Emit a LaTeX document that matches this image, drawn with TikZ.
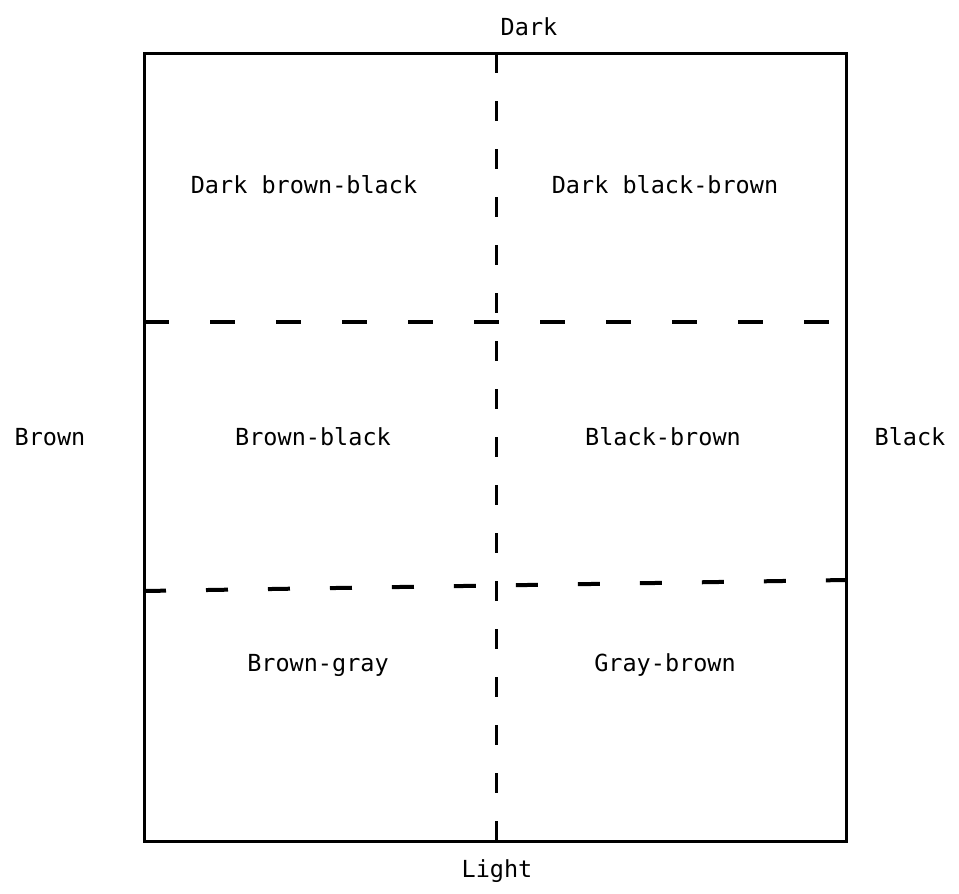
\documentclass[tikz,border=0pt]{standalone}
\usepackage{fontspec}
\setmonofont{DejaVu Sans Mono}
\begin{document}
\begin{tikzpicture}[x=1pt,y=-1pt,
  lbl/.style={font=\ttfamily\fontsize{23.5}{26}\selectfont, inner sep=0pt},
  frame/.style={line width=3pt},
  hdash/.style={line width=4pt, dash pattern=on 25pt off 41pt},
  vdash/.style={line width=3pt, dash pattern=on 20pt off 28pt}]
\useasboundingbox (0,0) rectangle (959,894);
\coordinate (tl) at (144,53);
\coordinate (br) at (846,841);
\draw[frame] (tl) rectangle (br);
\coordinate (vt) at (496,53);
\coordinate (vb) at (496,841);
\draw[vdash] (vt) -- (vb);
\coordinate (h1l) at (144,322);
\coordinate (h1r) at (846,322);
\draw[hdash] (h1l) -- (h1r);
\coordinate (h2l) at (144,591);
\coordinate (h2r) at (846,580);
\draw[hdash, dash pattern=on 22pt off 40pt] (h2l) -- (h2r);
\node[lbl] (dark) at (529,27) {Dark};
\node[lbl] (light) at (497,871) {Light};
\node[lbl] (brown) at (50,437) {Brown};
\node[lbl] (black) at (910,437) {Black};
\node[lbl] (dbb) at (304,185) {Dark brown-black};
\node[lbl] (dkb) at (665,185) {Dark black-brown};
\node[lbl] (bb) at (313,437) {Brown-black};
\node[lbl] (kb) at (663,437) {Black-brown};
\node[lbl] (bg) at (318,665) {Brown-gray};
\node[lbl] (gb) at (665,665) {Gray-brown};
\end{tikzpicture}
\end{document}
